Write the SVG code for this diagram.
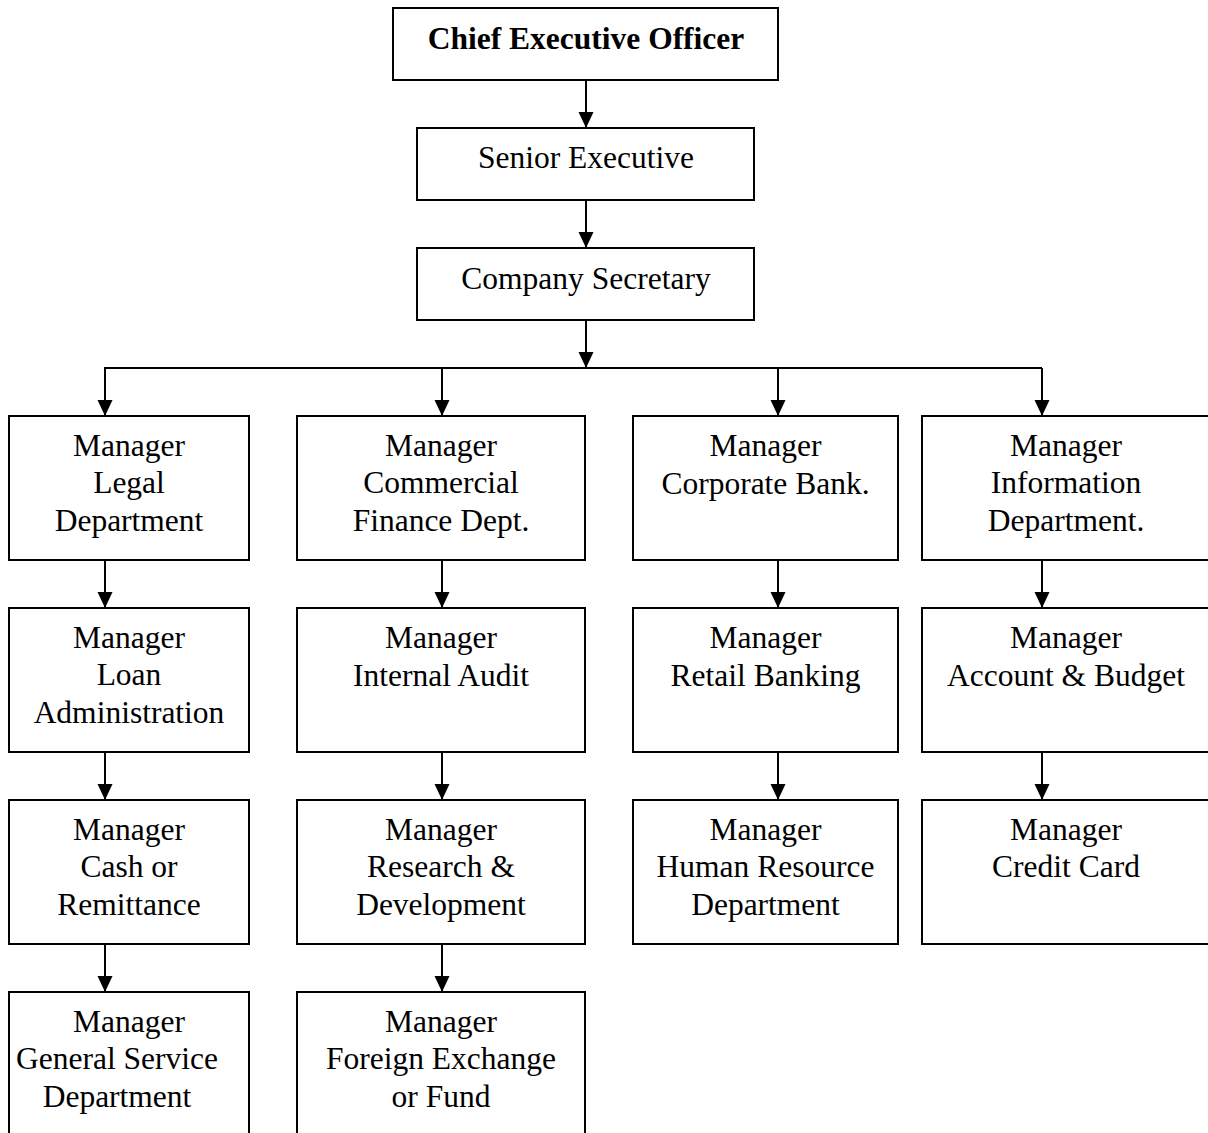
<svg xmlns="http://www.w3.org/2000/svg" width="1208" height="1133" viewBox="0 0 1208 1133">
<defs>
<style>
.box{fill:#fff;stroke:#000;stroke-width:2}
.t{font-family:"Liberation Serif","Times New Roman",serif;font-size:31.5px;fill:#000;text-anchor:middle}
.b{font-weight:bold}
.c{fill:none;stroke:#000;stroke-width:2}
</style>
<marker id="ah" markerUnits="userSpaceOnUse" markerWidth="16" markerHeight="18" refX="8" refY="17" orient="auto-start-reverse" viewBox="0 0 16 18">
<path d="M0,0 L16,0 L8,17 Z" fill="#000" transform="rotate(-90 8 8.5)"/>
</marker>
<marker id="a" markerUnits="userSpaceOnUse" markerWidth="16" markerHeight="16" refX="16" refY="8" orient="auto" viewBox="0 0 16 16">
<path d="M0,0.5 L16,8 L0,15.5 Z" fill="#000"/>
</marker>
</defs>
<rect width="1208" height="1133" fill="#fff"/>
<g id="connectors">
<line class="c" x1="586" y1="80" x2="586" y2="128" marker-end="url(#a)"/>
<line class="c" x1="586" y1="200" x2="586" y2="248" marker-end="url(#a)"/>
<line class="c" x1="586" y1="320" x2="586" y2="368" marker-end="url(#a)"/>
<polyline class="c" points="105,416 105,368 1042,368"/>
<line class="c" x1="105" y1="368" x2="105" y2="416" marker-end="url(#a)"/>
<line class="c" x1="442" y1="368" x2="442" y2="416" marker-end="url(#a)"/>
<line class="c" x1="778" y1="368" x2="778" y2="416" marker-end="url(#a)"/>
<line class="c" x1="1042" y1="368" x2="1042" y2="416" marker-end="url(#a)"/>
<line class="c" x1="105" y1="560" x2="105" y2="608" marker-end="url(#a)"/>
<line class="c" x1="105" y1="752" x2="105" y2="800" marker-end="url(#a)"/>
<line class="c" x1="105" y1="944" x2="105" y2="992" marker-end="url(#a)"/>
<line class="c" x1="442" y1="560" x2="442" y2="608" marker-end="url(#a)"/>
<line class="c" x1="442" y1="752" x2="442" y2="800" marker-end="url(#a)"/>
<line class="c" x1="442" y1="944" x2="442" y2="992" marker-end="url(#a)"/>
<line class="c" x1="778" y1="560" x2="778" y2="608" marker-end="url(#a)"/>
<line class="c" x1="778" y1="752" x2="778" y2="800" marker-end="url(#a)"/>
<line class="c" x1="1042" y1="560" x2="1042" y2="608" marker-end="url(#a)"/>
<line class="c" x1="1042" y1="752" x2="1042" y2="800" marker-end="url(#a)"/>
</g>
<g id="ceo"><rect class="box" x="393" y="8" width="385" height="72"/><text class="t b" x="586" y="49">Chief Executive Officer</text></g>
<g id="senior"><rect class="box" x="417" y="128" width="337" height="72"/><text class="t" x="586" y="168">Senior Executive</text></g>
<g id="secretary"><rect class="box" x="417" y="248" width="337" height="72"/><text class="t" x="586" y="289">Company Secretary</text></g>

<g id="legal"><rect class="box" x="9" y="416" width="240" height="144"/><text class="t" x="129" y="456">Manager</text><text class="t" x="129" y="493">Legal</text><text class="t" x="129" y="531">Department</text></g>
<g id="loan"><rect class="box" x="9" y="608" width="240" height="144"/><text class="t" x="129" y="648">Manager</text><text class="t" x="129" y="685">Loan</text><text class="t" x="129" y="723">Administration</text></g>
<g id="cash"><rect class="box" x="9" y="800" width="240" height="144"/><text class="t" x="129" y="840">Manager</text><text class="t" x="129" y="877">Cash or</text><text class="t" x="129" y="915">Remittance</text></g>
<g id="general"><rect class="box" x="9" y="992" width="240" height="160"/><text class="t" x="129" y="1032">Manager</text><text class="t" x="117" y="1069">General Service</text><text class="t" x="117" y="1107">Department</text></g>

<g id="commercial"><rect class="box" x="297" y="416" width="288" height="144"/><text class="t" x="441" y="456">Manager</text><text class="t" x="441" y="493">Commercial</text><text class="t" x="441" y="531">Finance Dept.</text></g>
<g id="audit"><rect class="box" x="297" y="608" width="288" height="144"/><text class="t" x="441" y="648">Manager</text><text class="t" x="441" y="686">Internal Audit</text></g>
<g id="research"><rect class="box" x="297" y="800" width="288" height="144"/><text class="t" x="441" y="840">Manager</text><text class="t" x="441" y="877">Research &amp;</text><text class="t" x="441" y="915">Development</text></g>
<g id="forex"><rect class="box" x="297" y="992" width="288" height="160"/><text class="t" x="441" y="1032">Manager</text><text class="t" x="441" y="1069">Foreign Exchange</text><text class="t" x="441" y="1107">or Fund</text></g>

<g id="corporate"><rect class="box" x="633" y="416" width="265" height="144"/><text class="t" x="765.5" y="456">Manager</text><text class="t" x="765.5" y="494">Corporate Bank.</text></g>
<g id="retail"><rect class="box" x="633" y="608" width="265" height="144"/><text class="t" x="765.5" y="648">Manager</text><text class="t" x="765.5" y="686">Retail Banking</text></g>
<g id="hr"><rect class="box" x="633" y="800" width="265" height="144"/><text class="t" x="765.5" y="840">Manager</text><text class="t" x="765.5" y="877">Human Resource</text><text class="t" x="765.5" y="915">Department</text></g>

<g id="information"><rect class="box" x="922" y="416" width="300" height="144"/><text class="t" x="1066" y="456">Manager</text><text class="t" x="1066" y="493">Information</text><text class="t" x="1066" y="531">Department.</text></g>
<g id="account"><rect class="box" x="922" y="608" width="300" height="144"/><text class="t" x="1066" y="648">Manager</text><text class="t" x="1066" y="686">Account &amp; Budget</text></g>
<g id="credit"><rect class="box" x="922" y="800" width="300" height="144"/><text class="t" x="1066" y="840">Manager</text><text class="t" x="1066" y="877">Credit Card</text></g>
</svg>
